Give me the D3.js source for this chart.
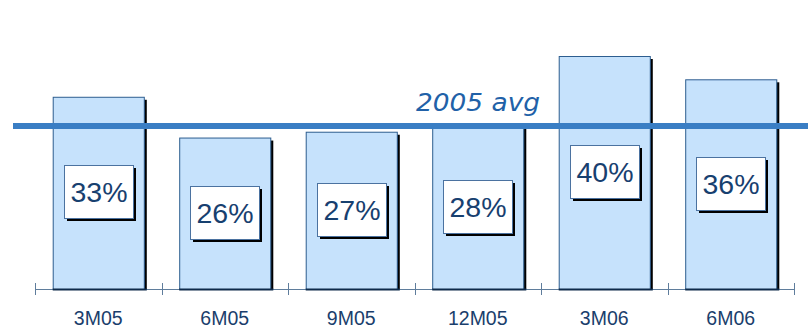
<!DOCTYPE html>
<html>
<head>
<meta charset="utf-8">
<script src="https://cdn.jsdelivr.net/npm/d3@7/dist/d3.min.js"></script>
<style>
  html, body { margin: 0; padding: 0; background: #fff; }
  svg { display: block; }
</style>
</head>
<body>
<svg id="chart" width="808" height="329"></svg>
<script>
// Period labels and share values (%)
const categories = ["3M05", "6M05", "9M05", "12M05", "3M06", "6M06"];
const values = [33, 26, 27, 28, 40, 36];
const avgValue = 28;
const avgLabel = "2005 avg";

const svg = d3.select("#chart");
const W = 808, H = 329;

const x = d3.scaleBand()
  .domain(categories)
  .range([35, 794])
  .paddingInner(0.28)
  .paddingOuter(0.14);

const y = d3.scaleLinear()
  .domain([0, 40])
  .range([289, 56]);

const barColor = "#c6e2fc";
const barStroke = "#2d5d8f";

// Bar shadows (right edge)
svg.append("g").selectAll("rect")
  .data(values)
  .join("rect")
  .attr("x", (d, i) => x(categories[i]) + 3)
  .attr("y", d => y(d) + 3)
  .attr("width", x.bandwidth())
  .attr("height", d => y(0) - y(d) - 3)
  .attr("fill", "#000");

// Bars
svg.append("g").selectAll("rect")
  .data(values)
  .join("rect")
  .attr("x", (d, i) => x(categories[i]) + 0.5)
  .attr("y", d => y(d) + 0.5)
  .attr("width", x.bandwidth())
  .attr("height", d => y(0) - y(d))
  .attr("fill", barColor)
  .attr("stroke", barStroke)
  .attr("stroke-width", 1);

// X axis with ticks at band boundaries
const step = x.step();
const left = x.range()[0];
const tickPos = d3.range(categories.length + 1).map(i => left + i * step);

const axis = svg.append("g");
axis.append("line")
  .attr("x1", tickPos[0]).attr("x2", tickPos[tickPos.length - 1])
  .attr("y1", y(0) + 0.5).attr("y2", y(0) + 0.5)
  .attr("stroke", "#5f7d9c").attr("stroke-width", 1);
axis.selectAll("line.tick")
  .data(tickPos)
  .join("line")
  .attr("class", "tick")
  .attr("x1", d => Math.round(d) + 0.5).attr("x2", d => Math.round(d) + 0.5)
  .attr("y1", y(0) - 6).attr("y2", y(0) + 6)
  .attr("stroke", "#5f7d9c").attr("stroke-width", 1);

// Bar bottom edges
svg.append("g").selectAll("line")
  .data(values)
  .join("line")
  .attr("x1", (d, i) => x(categories[i]))
  .attr("x2", (d, i) => x(categories[i]) + x.bandwidth() + 3)
  .attr("y1", y(0) + 0.5).attr("y2", y(0) + 0.5)
  .attr("stroke", "#0e2a4a").attr("stroke-width", 2);

// Category labels
svg.append("g").selectAll("text")
  .data(categories)
  .join("text")
  .attr("x", d => x(d) + x.bandwidth() / 2)
  .attr("y", 325)
  .attr("text-anchor", "middle")
  .attr("font-family", "Liberation Sans, Arial, sans-serif")
  .attr("font-size", 19.5)
  .attr("fill", "#1a3e6c")
  .text(d => d);

// Average line
svg.append("line")
  .attr("x1", 13).attr("x2", W)
  .attr("y1", y(avgValue)).attr("y2", y(avgValue))
  .attr("stroke", "#3a7ec4").attr("stroke-width", 6);

// Average label, stretched horizontally
svg.append("text")
  .attr("transform", "translate(416,111) scale(1.1,1)")
  .attr("font-family", "DejaVu Sans, Verdana, sans-serif")
  .attr("font-style", "italic")
  .attr("font-size", 24)
  .attr("fill", "#2161a8")
  .text(avgLabel);

// Value label boxes
const boxW = 69, boxH = 53;
const labels = svg.append("g").selectAll("g")
  .data(values)
  .join("g")
  .attr("transform", (d, i) => {
    const cx = x(categories[i]) + x.bandwidth() / 2;
    const cy = (y(d) + y(0)) / 2 - 1;
    return `translate(${Math.round(cx - boxW / 2)},${Math.round(cy - boxH / 2)})`;
  });

labels.append("rect")
  .attr("x", 3).attr("y", 3)
  .attr("width", boxW).attr("height", boxH)
  .attr("fill", "#000");
labels.append("rect")
  .attr("x", 0.5).attr("y", 0.5)
  .attr("width", boxW).attr("height", boxH)
  .attr("fill", "#fff")
  .attr("stroke", "#4b72a0").attr("stroke-width", 1);
labels.append("text")
  .attr("x", boxW / 2 + 0.5)
  .attr("y", boxH / 2 + 10.5)
  .attr("text-anchor", "middle")
  .attr("font-family", "Liberation Sans, Arial, sans-serif")
  .attr("font-size", 28.5)
  .attr("fill", "#17406f")
  .text(d => d + "%");
</script>
</body>
</html>
